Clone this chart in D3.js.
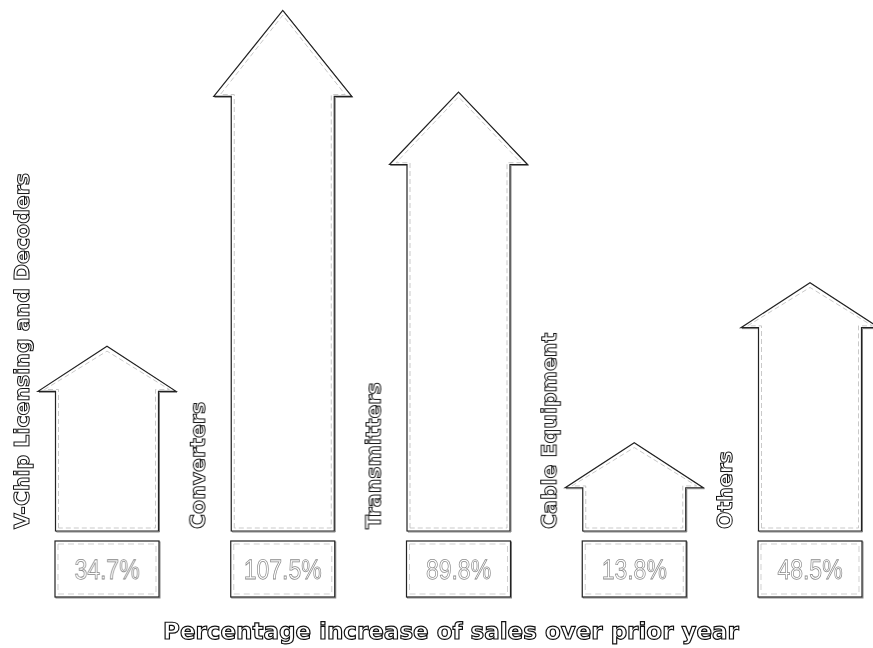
<!DOCTYPE html>
<html>
<head>
<meta charset="utf-8">
<script src="https://cdn.jsdelivr.net/npm/d3@7"></script>
<style>
  html, body { margin: 0; padding: 0; background: #fff; }
  svg { display: block; filter: grayscale(100%); }
  text { text-rendering: geometricPrecision; }
</style>
</head>
<body>
<script>
// Sales growth by product line, drawn as upward arrows
const categories = [
  "V-Chip Licensing and Decoders",
  "Converters",
  "Transmitters",
  "Cable Equipment",
  "Others"
];
const growth = [34.7, 107.5, 89.8, 13.8, 48.5];
const title = "Percentage increase of sales over prior year";

const W = 873, H = 648;
const baseY = 531;          // bottom of arrow bodies
const bodyHalf = 51.5;      // half width of arrow shaft
const headHalf = 69;        // half width of arrow head

const svg = d3.select("body").append("svg")
  .attr("width", W).attr("height", H);

const x = d3.scalePoint().domain(categories).range([107, 810]);
const y = d3.scaleLinear().domain([0, 110]).range([506.4, -1.1]);
const fmt = d3.format(".1f");

const data = categories.map((c, i) => ({ cat: c, v: growth[i] }));

function arrowPath(cx, tipY, inset) {
  const total = baseY - tipY;
  const headH = Math.max(45, 0.165 * total);
  const sY = tipY + headH;
  const p = d3.path();
  const bh = bodyHalf - inset, hh = headHalf - inset * 2.2;
  const t = tipY + inset * 1.6, s = sY - inset * 0.6, b = baseY - inset;
  p.moveTo(cx - bh, b);
  p.lineTo(cx - bh, s);
  p.lineTo(cx - hh, s);
  p.lineTo(cx, t);
  p.lineTo(cx + hh, s);
  p.lineTo(cx + bh, s);
  p.lineTo(cx + bh, b);
  p.closePath();
  return p.toString();
}

const g = svg.append("g").selectAll("g").data(data).join("g");

// soft shadow edge
g.append("path")
  .attr("d", d => arrowPath(x(d.cat), y(d.v), 0))
  .attr("transform", "translate(1,1)")
  .attr("fill", "none")
  .attr("stroke", "#888")
  .attr("stroke-width", 1);

// arrow outline
g.append("path")
  .attr("d", d => arrowPath(x(d.cat), y(d.v), 0))
  .attr("fill", "#fff")
  .attr("stroke", "#222")
  .attr("stroke-width", 1.2);

// inner dashed rim
g.append("path")
  .attr("d", d => arrowPath(x(d.cat), y(d.v), 3))
  .attr("fill", "none")
  .attr("stroke", "#bbb")
  .attr("stroke-width", 0.8)
  .attr("stroke-dasharray", "5,3");

// value boxes
g.append("rect")
  .attr("x", d => x(d.cat) - 52 + 1).attr("y", 542)
  .attr("width", 104).attr("height", 56)
  .attr("fill", "none").attr("stroke", "#888").attr("stroke-width", 1);
g.append("rect")
  .attr("x", d => x(d.cat) - 52).attr("y", 541)
  .attr("width", 104).attr("height", 56)
  .attr("fill", "#fff").attr("stroke", "#222").attr("stroke-width", 1.2);
g.append("rect")
  .attr("x", d => x(d.cat) - 49).attr("y", 544)
  .attr("width", 98).attr("height", 50)
  .attr("fill", "none").attr("stroke", "#bbb").attr("stroke-width", 0.7)
  .attr("stroke-dasharray", "6,4");

g.append("text")
  .attr("transform", d => `translate(${x(d.cat)},579) scale(0.82,1)`)
  .attr("text-anchor", "middle")
  .style("font-family", "'Liberation Sans', sans-serif")
  .style("font-size", "28px")
  .attr("fill", "#fff").attr("stroke", "#8a8a8a").attr("stroke-width", 0.8)
  .text(d => fmt(d.v) + "%");

// category labels, rotated beside each arrow
g.append("text")
  .attr("transform", d => `translate(${x(d.cat) - 78},${529}) rotate(-90)`)
  .style("font-family", "'DejaVu Sans', sans-serif")
  .style("font-weight", "bold")
  .style("font-size", "20.5px")
  .attr("fill", "#fff").attr("stroke", "#111").attr("stroke-width", 1)
  .text(d => d.cat);

// axis title
svg.append("text")
  .attr("x", 451).attr("y", 639)
  .attr("text-anchor", "middle")
  .style("font-family", "'DejaVu Sans', sans-serif")
  .style("font-weight", "bold")
  .style("font-size", "23px")
  .attr("fill", "#fff").attr("stroke", "#111").attr("stroke-width", 1.2)
  .text(title);
</script>
</body>
</html>
